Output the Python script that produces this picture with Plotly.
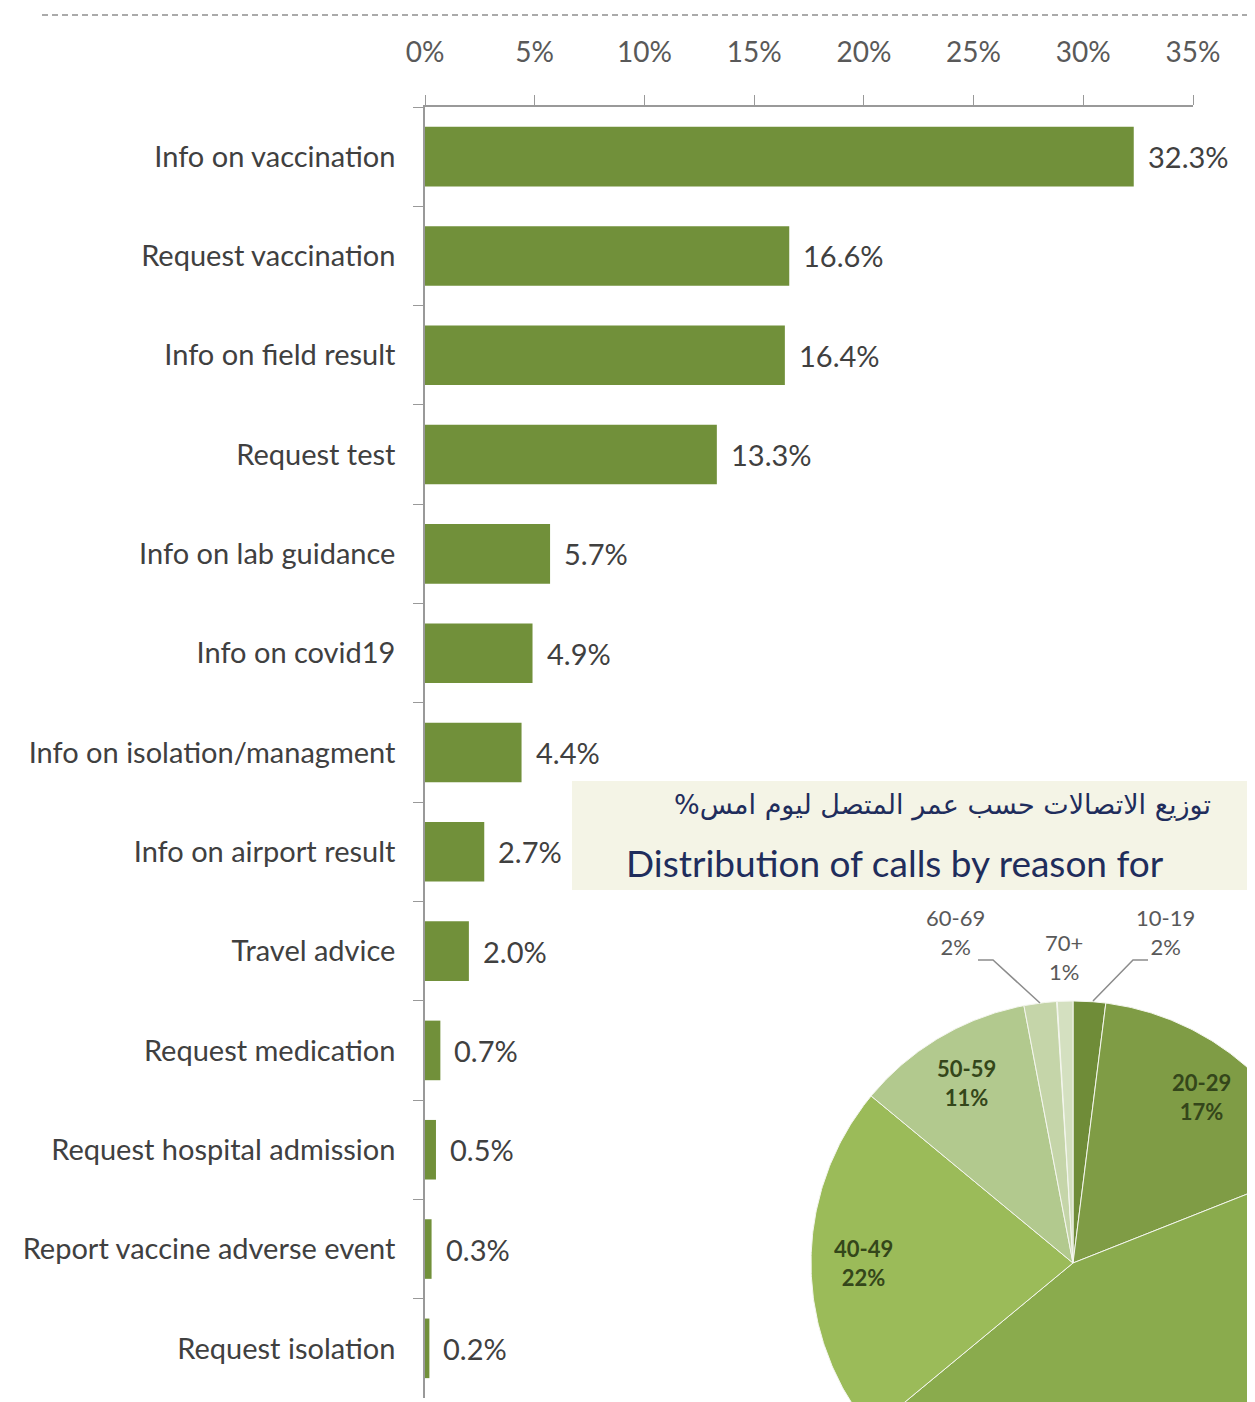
import numpy as np
import plotly.graph_objects as go

# ---------------- data ----------------
reasons = ["Info on vaccination", "Request vaccination", "Info on field result",
           "Request test", "Info on lab guidance", "Info on covid19",
           "Info on isolation/managment", "Info on airport result", "Travel advice",
           "Request medication", "Request hospital admission",
           "Report vaccine adverse event", "Request isolation"]
reason_pct = [32.3, 16.6, 16.4, 13.3, 5.7, 4.9, 4.4, 2.7, 2.0, 0.7, 0.5, 0.3, 0.2]
x_ticks = [0, 5, 10, 15, 20, 25, 30, 35]

age_groups = ["10-19", "20-29", "30-39", "40-49", "50-59", "60-69", "70+"]
age_pct = [2, 17, 45, 22, 11, 2, 1]

title_ar = "%" + "توزيع الاتصالات حسب عمر المتصل ليوم امس"
title_en = "Distribution of calls by reason for"

# ---------------- styles ----------------
W, H = 1255, 1402
OFF = 8  # page body margin compensation
BAR_COLOR = "#71903a"
TEXT = "#404040"
FONT = "Lato"
age_colors = ["#6f8c38", "#7f9c45", "#8aab4d", "#9bbb59", "#b2c98e", "#c5d5a9", "#d4e0c0"]
outside_label_pos = {"10-19": (1165, 932), "60-69": (955, 932), "70+": (1064, 957)}


def xd(px):
    return (px - OFF) / W


def yd(py):
    return 1 - (py - OFF) / H


fig = go.Figure()

# bar chart
fig.add_trace(go.Bar(
    x=reason_pct, y=reasons, orientation="h",
    marker=dict(color=BAR_COLOR, line=dict(width=0)),
    width=0.6, hoverinfo="x+y", xaxis="x", yaxis="y"))

annotations = []
for r, v in zip(reasons, reason_pct):
    annotations.append(dict(x=v, y=r, xref="x", yref="y", text=f"{v:.1f}%",
                            showarrow=False, xanchor="left", xshift=12,
                            font=dict(family=FONT, size=29, color=TEXT)))

# pie (drawn on a pixel-coordinate overlay axis so it can be cropped like the reference)
cx, cy, rad = 1073, 1263, 262
cum = np.cumsum([0] + age_pct) / 100.0 * 2 * np.pi
for i, (g, p) in enumerate(zip(age_groups, age_pct)):
    a = np.linspace(cum[i], cum[i + 1], 120)
    xs = np.concatenate([[cx], cx + rad * np.sin(a), [cx]])
    ys = np.concatenate([[cy], cy - rad * np.cos(a), [cy]])
    fig.add_trace(go.Scatter(x=xs, y=ys, fill="toself", mode="lines",
                             fillcolor=age_colors[i], line=dict(color="#f4f6ee", width=1),
                             hoverinfo="text", hovertext=f"{g}: {p}%",
                             xaxis="x3", yaxis="y3"))
    mid = (cum[i] + cum[i + 1]) / 2
    if g in outside_label_pos:
        lx, ly = outside_label_pos[g]
        col, wt = "#595959", 400
    else:
        lx, ly = cx + 0.8 * rad * np.sin(mid), cy - 0.8 * rad * np.cos(mid)
        col, wt = "#34461a", 700
    annotations.append(dict(x=lx, y=ly, xref="x3", yref="y3", text=f"{g}<br>{p}%",
                            showarrow=False, align="center",
                            font=dict(family=FONT, size=22, color=col, weight=wt)))

# title texts
annotations.append(dict(x=672, y=805, xref="x3", yref="y3", text=title_ar, showarrow=False,
                        xanchor="left", yanchor="middle",
                        font=dict(family="DejaVu Sans", size=27, color="#1f2d5c")))
annotations.append(dict(x=624, y=862, xref="x3", yref="y3", text=title_en, showarrow=False,
                        xanchor="left", yanchor="middle",
                        font=dict(family=FONT, size=37, color="#1f2d5c")))

shapes = [
    # top dashed line
    dict(type="line", xref="x3", yref="y3", x0=42, x1=W + OFF, y0=15, y1=15,
         line=dict(color="#aaaaaa", width=2, dash="6px,4px")),
    # title box
    dict(type="rect", xref="x3", yref="y3", x0=572, x1=W + 30, y0=781, y1=890,
         fillcolor="#f4f4e6", line=dict(width=0), layer="below"),
    # leader lines
    dict(type="path", xref="x3", yref="y3", path="M 978 960 L 993 960 L 1040 1003",
         line=dict(color="#8c8c8c", width=1.5)),
    dict(type="path", xref="x3", yref="y3", path="M 1148 960 L 1133 960 L 1093 1001",
         line=dict(color="#8c8c8c", width=1.5)),
]

fig.update_layout(
    width=W, height=H, autosize=False,
    margin=dict(l=0, r=0, t=0, b=0, pad=0, autoexpand=False),
    paper_bgcolor="white", plot_bgcolor="rgba(0,0,0,0)",
    showlegend=False, bargap=0.4,
    font=dict(family=FONT, color=TEXT),
    xaxis=dict(domain=[xd(425), xd(1193)], range=[0, 35], side="top",
               tickvals=x_ticks, ticktext=[f"{t}%" for t in x_ticks],
               ticks="outside", ticklen=10, tickcolor="#999999",
               showline=True, linecolor="#999999", linewidth=1.5,
               showgrid=False, zeroline=False, ticklabelstandoff=22,
               tickfont=dict(family=FONT, size=28, color="#595959"),
               anchor="y", fixedrange=True, automargin=False),
    yaxis=dict(domain=[yd(1398), yd(107)], autorange="reversed",
               type="category", ticks="outside", ticklen=10, tickcolor="#999999",
               tickson="boundaries", showline=True, linecolor="#999999", linewidth=1.5,
               showgrid=False, zeroline=False, ticklabelstandoff=22,
               tickfont=dict(family=FONT, size=29, color=TEXT),
               anchor="x", fixedrange=True, automargin=False),
    xaxis3=dict(domain=[0, 1], range=[OFF, W + OFF], visible=False, anchor="y3",
                fixedrange=True, automargin=False),
    yaxis3=dict(domain=[0, 1], range=[H + OFF, OFF], visible=False, anchor="x3",
                fixedrange=True, automargin=False),
    annotations=annotations, shapes=shapes,
)

fig.write_html("out.html")
